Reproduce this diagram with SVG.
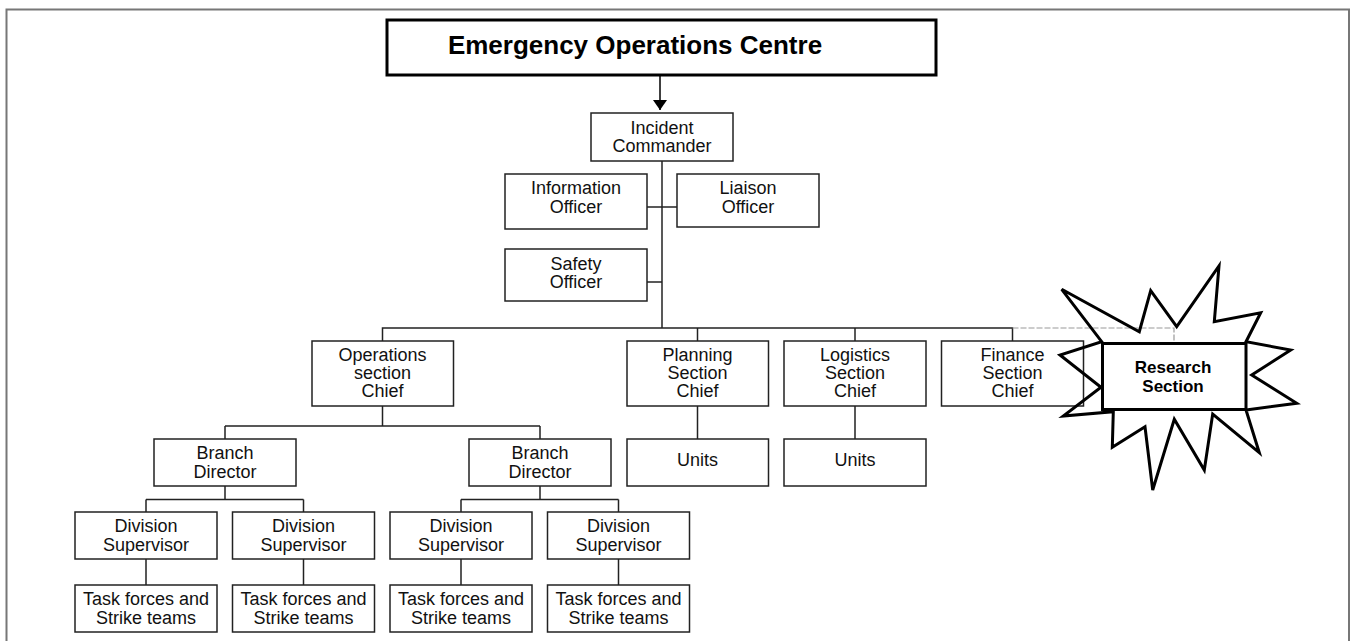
<svg xmlns="http://www.w3.org/2000/svg" width="1351" height="641" viewBox="0 0 1351 641">
<style>
.box{fill:#fff;stroke:#222;stroke-width:1.5}
.t{font-family:"Liberation Sans",Arial,sans-serif;font-size:18px;fill:#111;text-anchor:middle}
.b{font-family:"Liberation Sans",Arial,sans-serif;font-weight:bold;fill:#000;text-anchor:middle}
.ln{fill:none;stroke:#222;stroke-width:1.5}
</style>
<defs>
<marker id="arr" viewBox="0 0 10 14" refX="10" refY="7" markerWidth="10" markerHeight="14" markerUnits="userSpaceOnUse" orient="auto">
<path d="M0,0 L14,7 L0,14 Z" transform="scale(0.72,1)" fill="#000"/>
</marker>
</defs>
<rect x="0" y="0" width="1351" height="641" fill="#fff"/>
<path d="M6.5,641 V9.5 H1349 V641" fill="none" stroke="#777" stroke-width="2"/>

<g id="connectors">
<line x1="660" y1="75" x2="660" y2="110" stroke="#000" stroke-width="1.5" marker-end="url(#arr)"/>
<path class="ln" d="M662,161 V328"/>
<path class="ln" d="M647,207 H677"/>
<path class="ln" d="M647,282 H662"/>
<path class="ln" d="M382.5,341 V328 H1012.5 V341"/>
<path class="ln" d="M697.5,328 V341"/>
<path class="ln" d="M855,328 V341"/>
<path d="M1012.5,328 H1174 V343" fill="none" stroke="#999" stroke-width="1.2" stroke-dasharray="6 2"/>
<path class="ln" d="M382.5,406 V426 M225,426 H540 M225,426 V439 M540,426 V439"/>
<path class="ln" d="M225,486 V499.5 M146,499.5 H303.5 M146,499.5 V512 M303.5,499.5 V512"/>
<path class="ln" d="M540,486 V499.5 M461,499.5 H618.5 M461,499.5 V512 M618.5,499.5 V512"/>
<path class="ln" d="M146,559 V585 M303.5,559 V585 M461,559 V585 M618.5,559 V585"/>
<path class="ln" d="M697.5,406 V439 M855,406 V439"/>
</g>

<g id="eoc">
<rect x="387" y="20" width="549" height="55" fill="#fff" stroke="#000" stroke-width="3"/>
<text class="b" x="635" y="54" font-size="26">Emergency Operations Centre</text>
</g>

<g id="incident-commander">
<rect class="box" x="591" y="113" width="142" height="48"/>
<text class="t" x="662" y="134">Incident</text>
<text class="t" x="662" y="152">Commander</text>
</g>

<g id="information-officer">
<rect class="box" x="505" y="174" width="142" height="55"/>
<text class="t" x="576" y="194">Information</text>
<text class="t" x="576" y="213">Officer</text>
</g>

<g id="liaison-officer">
<rect class="box" x="677" y="174" width="142" height="53"/>
<text class="t" x="748" y="194">Liaison</text>
<text class="t" x="748" y="213">Officer</text>
</g>

<g id="safety-officer">
<rect class="box" x="505" y="249" width="142" height="52"/>
<text class="t" x="576" y="269.5">Safety</text>
<text class="t" x="576" y="288">Officer</text>
</g>

<g id="operations">
<rect class="box" x="312" y="341" width="141.5" height="65"/>
<text class="t" x="382.5" y="360.5">Operations</text>
<text class="t" x="382.5" y="379">section</text>
<text class="t" x="382.5" y="397">Chief</text>
</g>

<g id="planning">
<rect class="box" x="627" y="341" width="141.5" height="65"/>
<text class="t" x="697.5" y="360.5">Planning</text>
<text class="t" x="697.5" y="379">Section</text>
<text class="t" x="697.5" y="397">Chief</text>
</g>

<g id="logistics">
<rect class="box" x="784" y="341" width="142" height="65"/>
<text class="t" x="855" y="360.5">Logistics</text>
<text class="t" x="855" y="379">Section</text>
<text class="t" x="855" y="397">Chief</text>
</g>

<g id="finance">
<rect class="box" x="941.5" y="341" width="142" height="65"/>
<text class="t" x="1012.5" y="360.5">Finance</text>
<text class="t" x="1012.5" y="379">Section</text>
<text class="t" x="1012.5" y="397">Chief</text>
</g>

<g id="research">
<polygon points="1061.7,289.3 1139.3,331.7 1150.7,290.7 1176.7,326.7 1219,266 1214.3,321.7 1260.7,312.7 1246,341.7 1290.7,350 1251.7,375 1296.7,403.3 1246,410 1259.3,452.7 1212.7,414 1204.3,470 1174.3,419.3 1152.7,490 1145,426.7 1112.3,447.3 1113.3,411.7 1063.3,416 1101,387.3 1060,355 1101.7,341.7" fill="none" stroke="#000" stroke-width="3" stroke-linejoin="miter"/>
<rect x="1102.5" y="343.5" width="143.5" height="66" fill="#fff" stroke="#000" stroke-width="3"/>
<text class="b" x="1173" y="373" font-size="17">Research</text>
<text class="b" x="1173" y="392" font-size="17">Section</text>
</g>

<g id="branch-director-1">
<rect class="box" x="154" y="439" width="142" height="47"/>
<text class="t" x="225" y="459">Branch</text>
<text class="t" x="225" y="478">Director</text>
</g>

<g id="branch-director-2">
<rect class="box" x="469" y="439" width="142" height="47"/>
<text class="t" x="540" y="459">Branch</text>
<text class="t" x="540" y="478">Director</text>
</g>

<g id="planning-units">
<rect class="box" x="627" y="439" width="141.5" height="47"/>
<text class="t" x="697.5" y="466">Units</text>
</g>

<g id="logistics-units">
<rect class="box" x="784" y="439" width="142" height="47"/>
<text class="t" x="855" y="466">Units</text>
</g>

<g id="division-1">
<rect class="box" x="75" y="512" width="142" height="47"/>
<text class="t" x="146" y="532">Division</text>
<text class="t" x="146" y="551">Supervisor</text>
</g>
<g id="division-2">
<rect class="box" x="232.5" y="512" width="142" height="47"/>
<text class="t" x="303.5" y="532">Division</text>
<text class="t" x="303.5" y="551">Supervisor</text>
</g>
<g id="division-3">
<rect class="box" x="390" y="512" width="142" height="47"/>
<text class="t" x="461" y="532">Division</text>
<text class="t" x="461" y="551">Supervisor</text>
</g>
<g id="division-4">
<rect class="box" x="547.5" y="512" width="142" height="47"/>
<text class="t" x="618.5" y="532">Division</text>
<text class="t" x="618.5" y="551">Supervisor</text>
</g>

<g id="task-1">
<rect class="box" x="75" y="585" width="142" height="47"/>
<text class="t" x="146" y="604.5">Task forces and</text>
<text class="t" x="146" y="624">Strike teams</text>
</g>
<g id="task-2">
<rect class="box" x="232.5" y="585" width="142" height="47"/>
<text class="t" x="303.5" y="604.5">Task forces and</text>
<text class="t" x="303.5" y="624">Strike teams</text>
</g>
<g id="task-3">
<rect class="box" x="390" y="585" width="142" height="47"/>
<text class="t" x="461" y="604.5">Task forces and</text>
<text class="t" x="461" y="624">Strike teams</text>
</g>
<g id="task-4">
<rect class="box" x="547.5" y="585" width="142" height="47"/>
<text class="t" x="618.5" y="604.5">Task forces and</text>
<text class="t" x="618.5" y="624">Strike teams</text>
</g>
</svg>
